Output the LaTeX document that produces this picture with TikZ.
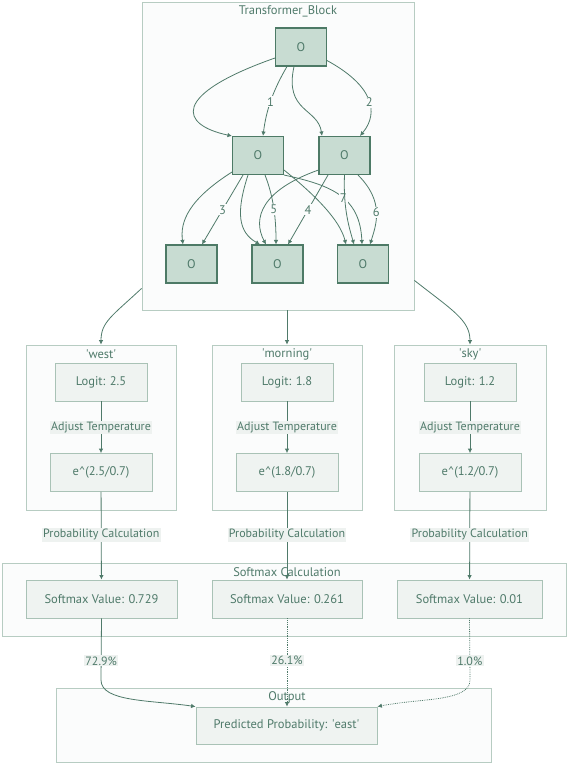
\documentclass[tikz,border=0pt]{standalone}
\usepackage{fontspec}
\setmainfont{PT Sans}
\usetikzlibrary{arrows.meta}
\definecolor{txt}{HTML}{4F7A6A}
\definecolor{clborder}{HTML}{B7CCC2}
\definecolor{clfill}{HTML}{FBFCFC}
\definecolor{ofill}{HTML}{C8DCD2}
\definecolor{odark}{HTML}{4D7A66}
\definecolor{lfill}{HTML}{EFF3F1}
\definecolor{lborder}{HTML}{A9C2B6}
\definecolor{edgecol}{HTML}{4F7A6A}
\definecolor{lblfill}{HTML}{EEF2F0}
\tikzset{
  cluster/.style={draw=clborder, fill=clfill, line width=0.8pt, inner sep=0pt},
  title/.style={text=txt, font=\fontsize{12.5}{14}\selectfont, inner sep=1pt},
  onode/.style={draw=odark, fill=ofill, line width=1.05pt, minimum width=51, minimum height=38, text=txt, font=\fontsize{12.5}{14}\selectfont},
  lbox/.style={draw=lborder, fill=lfill, line width=0.8pt, minimum height=38, text=txt, font=\fontsize{12.5}{14}\selectfont},
  lbl/.style={fill=lblfill, text=txt, inner sep=1.2pt, font=\fontsize{12}{14}\selectfont},
  nlbl/.style={fill=clfill, text=txt, inner sep=1pt, font=\fontsize{12.5}{14}\selectfont},
  edge/.style={draw=edgecol, line width=0.8pt, -{Latex[length=4.5pt,width=4.5pt]}},
  dedge/.style={edge, densely dotted},
}
\begin{document}
\begin{tikzpicture}[x=1pt,y=-1pt]
\useasboundingbox (0,0) rectangle (568,764);
% clusters
\node[cluster, minimum width=272, minimum height=308] (tb) at (278,156) {};
\node[title] (tbt) at (288,11) {Transformer\_Block};
\node[cluster, minimum width=150, minimum height=165] (west) at (101,427.5) {};
\node[title] (westt) at (101,354) {\textquotesingle west\textquotesingle};
\node[cluster, minimum width=150, minimum height=165] (morn) at (287,427.5) {};
\node[title] (mornt) at (287,354) {\textquotesingle morning\textquotesingle};
\node[cluster, minimum width=152, minimum height=165] (sky) at (470,427.5) {};
\node[title] (skyt) at (470,354) {\textquotesingle sky\textquotesingle};
\node[cluster, minimum width=564, minimum height=73] (soft) at (284,599.5) {};
\node[title] (softt) at (287,572) {Softmax Calculation};
\node[cluster, minimum width=435, minimum height=74] (out) at (273.5,725) {};
\node[title] (outt) at (287,697) {Output};

% transformer nodes
\node[onode] (t0) at (301,47) {O};
\node[onode] (m1) at (258,155.5) {O};
\node[onode] (m2) at (344.5,155.5) {O};
\node[onode] (b1) at (191.5,264) {O};
\node[onode] (b2) at (277.5,264) {O};
\node[onode] (b3) at (363,264) {O};

% transformer edges
\draw[edge] ([yshift=-11pt]t0.west) .. controls (170,95) and (180,125) .. (m1.north west);
\draw[edge] ([xshift=-14pt]t0.south) .. controls (272,92) and (266,112) .. node[nlbl,pos=0.5]{1} ([xshift=5pt]m1.north);
\draw[edge] ([xshift=-7pt]t0.south) .. controls (284,112) and (318,108) .. ([xshift=-22.5pt]m2.north);
\draw[edge] ([yshift=6pt]t0.south east) .. controls (372,85) and (380,112) .. node[nlbl,pos=0.55]{2} ([xshift=15.5pt]m2.north);

\draw[edge] ([yshift=3pt]m1.south west) .. controls (188,200) and (180,222) .. ([xshift=-8.5pt]b1.north);
\draw[edge] ([xshift=-15pt]m1.south) -- node[nlbl,pos=0.5]{3} ([xshift=10.5pt]b1.north);
\draw[edge] ([xshift=-10pt]m1.south) .. controls (236,212) and (238,232) .. ([xshift=-17.5pt]b2.north);
\draw[edge] ([xshift=7pt]m1.south) .. controls (274,198) and (276,220) .. node[nlbl,pos=0.5]{5} ([xshift=-1.5pt]b2.north);
\draw[edge] ([yshift=5pt]m1.south east) .. controls (315,195) and (340,220) .. ([xshift=-17pt]b3.north);
\draw[edge] (m1.south east) .. controls (330,185) and (360,196) .. node[nlbl,pos=0.55]{7} ([xshift=-1pt]b3.north);

\draw[edge] ([yshift=5pt]m2.south west) .. controls (262,190) and (252,218) .. ([xshift=-11.5pt]b2.north);
\draw[edge] ([xshift=-16.5pt]m2.south) -- node[nlbl,pos=0.5]{4} ([xshift=10.5pt]b2.north);
\draw[edge] (m2.south) .. controls (343,210) and (350,230) .. ([xshift=-9pt]b3.north);
\draw[edge] ([xshift=13.5pt]m2.south) .. controls (385,202) and (376,225) .. node[nlbl,pos=0.5]{6} ([xshift=7pt]b3.north);

% cluster-to-cluster
\draw[edge] ([yshift=22pt]tb.south west) .. controls (112,316) and (101,322) .. (west.north);
\draw[edge] (tb.south -| morn.north) -- (morn.north);
\draw[edge] ([yshift=30pt]tb.south east) .. controls (452,310) and (470,320) .. (sky.north);

% per token boxes
\node[lbox, minimum width=92] (l1) at (101,382) {Logit: 2.5};
\node[lbox, minimum width=92] (l2) at (287,382) {Logit: 1.8};
\node[lbox, minimum width=92] (l3) at (470,382) {Logit: 1.2};
\node[lbox, minimum width=102] (e1) at (101,472.5) {e\textasciicircum(2.5/0.7)};
\node[lbox, minimum width=102] (e2) at (287,472.5) {e\textasciicircum(1.8/0.7)};
\node[lbox, minimum width=102] (e3) at (470,472.5) {e\textasciicircum(1.2/0.7)};
\draw[edge] (l1) -- node[lbl]{Adjust Temperature} (e1);
\draw[edge] (l2) -- node[lbl]{Adjust Temperature} (e2);
\draw[edge] (l3) -- node[lbl]{Adjust Temperature} (e3);

% softmax
\node[lbox, minimum width=151] (s1) at (101.5,599) {Softmax Value: 0.729};
\node[lbox, minimum width=150] (s2) at (287,599) {Softmax Value: 0.261};
\node[lbox, minimum width=145] (s3) at (469.5,599) {Softmax Value: 0.01};
\draw[edge] (e1) -- node[lbl,pos=0.49]{Probability Calculation} (s1);
\draw[edge] (e2) -- node[lbl,pos=0.49]{Probability Calculation} (s2);
\draw[edge] (e3) -- node[lbl,pos=0.49]{Probability Calculation} (s3);

% output
\node[lbox, minimum width=181, minimum height=37] (p) at (286.5,725.5) {Predicted Probability: \textquotesingle east\textquotesingle};
\draw[edge] (s1.south) -- node[lbl,pos=0.69]{72.9\%} (101,680) .. controls (101,702) and (150,700) .. (p.north west);
\draw[dedge] (s2.south) -- node[lbl,pos=0.48]{26.1\%} (p.north -| s2.south);
\draw[dedge] (s3.south) -- node[lbl,pos=0.69]{1.0\%} (470,680) .. controls (470,702) and (420,698) .. (p.north east);
\end{tikzpicture}
\end{document}
